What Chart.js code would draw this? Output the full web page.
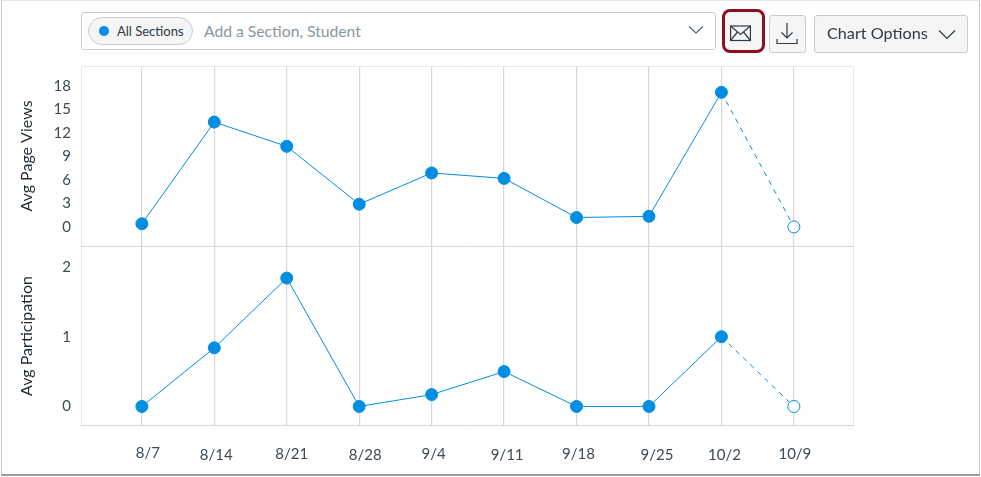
<!DOCTYPE html>
<html>
<head>
<meta charset="utf-8">
<title>Course analytics</title>
<script src="https://cdn.jsdelivr.net/npm/chart.js@4"></script>
<style>
html, body { margin: 0; padding: 0; background: #fff; }
body { width: 981px; height: 477px; position: relative; overflow: hidden; font-family: Lato, sans-serif; color: #2d3b45; }
#frame { position: absolute; left: 1px; top: 0; width: 977px; height: 473px; border: 1px solid #c4c6c8; border-top-color: #e6e6e6; border-bottom: 2px solid #9a9c9e; box-sizing: content-box; }
#chart { position: absolute; left: 0; top: 0; }
.box { position: absolute; box-sizing: border-box; }
#picker { left: 81px; top: 12px; width: 635px; height: 38px; border: 1px solid #c7cdd1; border-radius: 3px; background: #fff; }
#pill { left: 88px; top: 17px; width: 105px; height: 28px; border: 1px solid #c7cdd1; border-radius: 14px; background: #f5f5f5; }
#dot { left: 99px; top: 26px; width: 10px; height: 10px; border-radius: 50%; background: #008ee2; }
.label { position: absolute; white-space: nowrap; }
.btn { border: 1px solid #c7cdd1; border-radius: 3px; background: #f5f5f5; }
#mail { left: 722px; top: 9px; width: 43px; height: 44px; border: 3.5px solid #8b0f1c; border-radius: 8px; }
#down { left: 769px; top: 15px; width: 37px; height: 38px; }
#options { left: 814px; top: 15px; width: 154px; height: 38px; }
svg { position: absolute; fill: none; }
</style>
</head>
<body>
<div id="frame"></div>
<canvas id="chart" width="981" height="477"></canvas>

<div class="box" id="picker"></div>
<div class="box" id="pill"></div>
<div class="box" id="dot"></div>
<div class="label" style="left:117px;top:23px;font-size:13px;">All Sections</div>
<div class="label" style="left:204px;top:22px;font-size:15.7px;color:#8b969e;">Add a Section, Student</div>
<svg style="left:688px;top:25px" width="16" height="10" stroke="#556572" stroke-width="1.1"><path d="M1 1.5 L8 8 L15 1.5"/></svg>

<div class="box btn" id="mail"></div>
<svg style="left:730px;top:25px" width="21" height="17" stroke="#2d3b45" stroke-width="1.2"><rect x="0.6" y="1" width="19.8" height="14.5"/><path d="M0.6 1 L10.5 9.5 L20.4 1 M0.6 15.5 L7.5 7 M20.4 15.5 L13.5 7"/></svg>

<div class="box btn" id="down"></div>
<svg style="left:776px;top:22px" width="22" height="24" stroke="#2d3b45" stroke-width="1.2"><path d="M11 1 V16 M5.5 10.5 L11 16 L16.5 10.5 M1 17 V21.5 H21 V17"/></svg>

<div class="box btn" id="options"></div>
<div class="label" style="left:827px;top:23px;font-size:16.2px;">Chart Options</div>
<svg style="left:938px;top:29px" width="18" height="11" stroke="#2d3b45" stroke-width="1.2"><path d="M1 1.5 L9 9.5 L17 1.5"/></svg>

<script>
const weekLabels = ['8/7', '8/14', '8/21', '8/28', '9/4', '9/11', '9/18', '9/25', '10/2', '10/9'];
const pageViews = [0.4, 13.4, 10.3, 2.9, 6.9, 6.2, 1.2, 1.35, 17.2, 0];
const participation = [0, 0.84, 1.84, 0, 0.17, 0.5, 0, 0, 1, 0];
const pageViewTicks = [0, 3, 6, 9, 12, 15, 18];
const participationTicks = [0, 1, 2];

// the week labels sit a little off their gridlines in the original
const labelNudgeX = [6, 2, 5, 6, 2, 3, 2, 8, 3, 1];
const labelNudgeY = [0, 2, 1, 2, 1, 2, 1, 2, 2, 1];

const BLUE = '#008ee2';
const GRID = '#d3d8dc';
const lastIndex = weekLabels.length - 1;

function toPoints(values) {
    return values.map((v, i) => ({ x: i, y: v }));
}

function lineDataset(values, axisId) {
    return {
        data: toPoints(values),
        yAxisID: axisId,
        borderColor: BLUE,
        borderWidth: 1,
        tension: 0,
        clip: false,
        pointRadius: 6,
        pointHoverRadius: 6,
        pointBorderWidth: 1,
        pointBorderColor: BLUE,
        // the current week is still open: hollow point, dashed line
        pointBackgroundColor: ctx => ctx.dataIndex === lastIndex ? '#fff' : BLUE,
        segment: {
            borderDash: ctx => ctx.p1DataIndex === lastIndex ? [5, 5] : undefined
        }
    };
}

function yAxis(title, min, max, tickValues) {
    return {
        type: 'linear',
        position: 'left',
        stack: 'rows',
        stackWeight: 1,
        min: min,
        max: max,
        afterBuildTicks: axis => { axis.ticks = tickValues.map(v => ({ value: v })); },
        afterFit: axis => { axis.width = 81; },
        grid: { display: false, drawTicks: false },
        border: { display: false },
        ticks: { color: '#3c4a54', font: { family: 'Lato', size: 15 }, padding: 10, autoSkip: false },
        title: {
            display: true,
            text: title,
            color: '#1f2a32',
            font: { family: 'Lato', size: 16 },
            padding: { top: 17, bottom: 0 }
        }
    };
}

const framePlugin = {
    id: 'frame',
    beforeDatasetsDraw(chart) {
        const { ctx, chartArea: a } = chart;
        const mid = chart.scales.yViews.bottom;
        ctx.save();
        ctx.lineWidth = 1;
        ctx.strokeStyle = '#e6e9eb';
        ctx.beginPath();
        ctx.moveTo(a.left + 0.5, a.bottom);
        ctx.lineTo(a.left + 0.5, a.top + 0.5);
        ctx.lineTo(a.right - 0.5, a.top + 0.5);
        ctx.lineTo(a.right - 0.5, a.bottom);
        ctx.stroke();
        ctx.strokeStyle = GRID;
        ctx.beginPath();
        ctx.moveTo(a.left, Math.floor(mid) + 0.5);
        ctx.lineTo(a.right, Math.floor(mid) + 0.5);
        ctx.moveTo(a.left, a.bottom - 0.5);
        ctx.lineTo(a.right, a.bottom - 0.5);
        ctx.stroke();
        ctx.restore();
    }
};

const weekLabelPlugin = {
    id: 'weekLabels',
    afterDraw(chart) {
        const { ctx, chartArea: a, scales } = chart;
        ctx.save();
        ctx.font = '15px Lato';
        ctx.fillStyle = '#3c4a54';
        ctx.textAlign = 'center';
        ctx.textBaseline = 'middle';
        weekLabels.forEach((label, i) => {
            ctx.fillText(label, scales.x.getPixelForValue(i) + labelNudgeX[i], a.bottom + 27 + labelNudgeY[i]);
        });
        ctx.restore();
    }
};

new Chart(document.getElementById('chart'), {
    type: 'line',
    data: {
        datasets: [
            lineDataset(pageViews, 'yViews'),
            lineDataset(participation, 'yPart')
        ]
    },
    options: {
        responsive: false,
        animation: false,
        events: [],
        layout: { padding: { left: 0, right: 127, top: 66, bottom: 51 } },
        plugins: { legend: { display: false }, tooltip: { enabled: false } },
        scales: {
            x: {
                type: 'linear',
                min: -0.84,
                max: 9.83,
                afterBuildTicks: axis => { axis.ticks = weekLabels.map((_, i) => ({ value: i })); },
                afterFit: axis => { axis.height = 0; },
                grid: { color: GRID, lineWidth: 1.2, drawTicks: false },
                border: { display: false },
                ticks: { display: false }
            },
            // left-hand stacked axes fill from the bottom up
            yPart: yAxis('Avg Participation', -0.28, 2.3, participationTicks),
            yViews: yAxis('Avg Page Views', -2.44, 20.57, pageViewTicks)
        }
    },
    plugins: [framePlugin, weekLabelPlugin]
});
</script>
</body>
</html>
